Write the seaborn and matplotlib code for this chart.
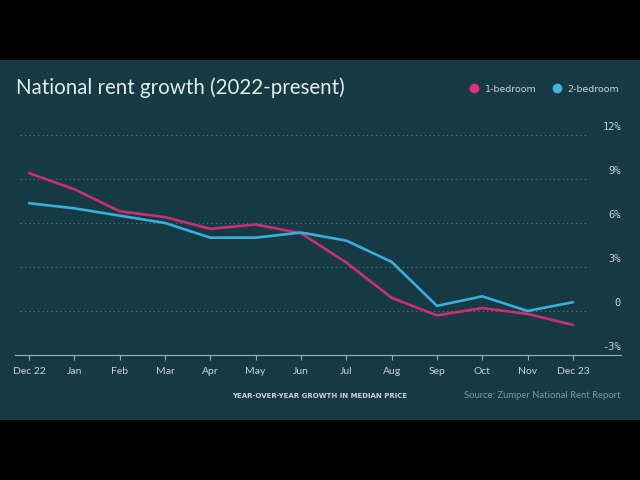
import numpy as np
import pandas as pd
import seaborn as sns
import matplotlib.pyplot as plt
from matplotlib.lines import Line2D
from matplotlib.patches import Rectangle

months = ["Dec 22", "Jan", "Feb", "Mar", "Apr", "May", "Jun",
          "Jul", "Aug", "Sep", "Oct", "Nov", "Dec 23"]
one_bed = [9.4, 8.3, 6.8, 6.4, 5.6, 5.9, 5.3, 3.3, 0.9, -0.3, 0.2, -0.2, -0.95]
two_bed = [7.35, 7.0, 6.5, 6.0, 5.0, 5.0, 5.35, 4.8, 3.35, 0.35, 1.0, 0.0, 0.6]
y_ticks = [-3, 0, 3, 6, 9, 12]
y_labels = ["-3%", "0", "3%", "6%", "9%", "12%"]

BG = "#163a44"
PINK = "#c92f72"
BLUE = "#3aaedc"
TXT = "#c9d3d5"

df = pd.DataFrame({
    "idx": list(range(len(months))) * 2,
    "growth": one_bed + two_bed,
    "type": ["1-bedroom"] * len(months) + ["2-bedroom"] * len(months),
})

sns.set_theme(style="white")
plt.rcParams["font.family"] = ["Lato", "DejaVu Sans"]

fig = plt.figure(figsize=(6.4, 4.8), dpi=100)
fig.patch.set_facecolor("black")
fig.patches.append(Rectangle((0, 60 / 480), 1, 360 / 480, transform=fig.transFigure,
                             facecolor=BG, edgecolor="none", zorder=-10))

ax = fig.add_axes([15 / 640, 1 - 355 / 480, (621 - 15) / 640, (355 - 135) / 480])
ax.set_facecolor(BG)

sns.lineplot(data=df, x="idx", y="growth", hue="type",
             palette={"1-bedroom": PINK, "2-bedroom": BLUE},
             linewidth=1.9, ax=ax, legend=False, zorder=3)

ax.set_xlim(-0.31, 13.06)
ax.set_ylim(-3, 12)

# dotted gridlines that stop short of the right-hand labels
ax.hlines(y_ticks[1:], -0.2, 12.3, colors="#5f7c83", linestyles=(0, (1, 3)),
          linewidth=0.8, zorder=1)
ax.set_yticks([])
for v, lab in zip(y_ticks, y_labels):
    ax.text(13.06, v + 0.55, lab, ha="right", va="center", color=TXT,
            fontsize=7.5, family="DejaVu Sans Mono")

ax.set_xticks(range(len(months)))
ax.set_xticklabels(months, color=TXT, fontsize=7.5)
ax.tick_params(axis="x", bottom=True, length=3.5, width=0.8, color="#9fb1b5", pad=5)
ax.set_xlabel("")
ax.set_ylabel("")

for s in ["top", "right", "left"]:
    ax.spines[s].set_visible(False)
ax.spines["bottom"].set_color("#9fb1b5")
ax.spines["bottom"].set_linewidth(0.8)

fig.text(16 / 640, 1 - 88 / 480, "National rent growth (2022-present)",
         color="#e6ecec", fontsize=14.8, ha="left", va="center")

handles = [Line2D([], [], marker="o", linestyle="", markersize=6, color="#e0307a"),
           Line2D([], [], marker="o", linestyle="", markersize=6, color="#3fb3e6")]
leg = fig.legend(handles, ["1-bedroom", "2-bedroom"], loc="center right",
                 bbox_to_anchor=(628 / 640, 1 - 89 / 480), ncol=2, frameon=False,
                 handletextpad=0.1, columnspacing=1.2, labelcolor=TXT,
                 prop={"family": "DejaVu Sans", "size": 6.8})

fig.text(320 / 640, 1 - 396 / 480, "YEAR-OVER-YEAR GROWTH IN MEDIAN PRICE",
         color=TXT, fontsize=5, fontweight="bold", ha="center", va="center",
         family="DejaVu Sans")
fig.text(621 / 640, 1 - 396 / 480, "Source: Zumper National Rent Report",
         color="#7f979c", fontsize=6.8, ha="right", va="center")

fig.savefig("out.png", dpi=100, facecolor=fig.get_facecolor())
